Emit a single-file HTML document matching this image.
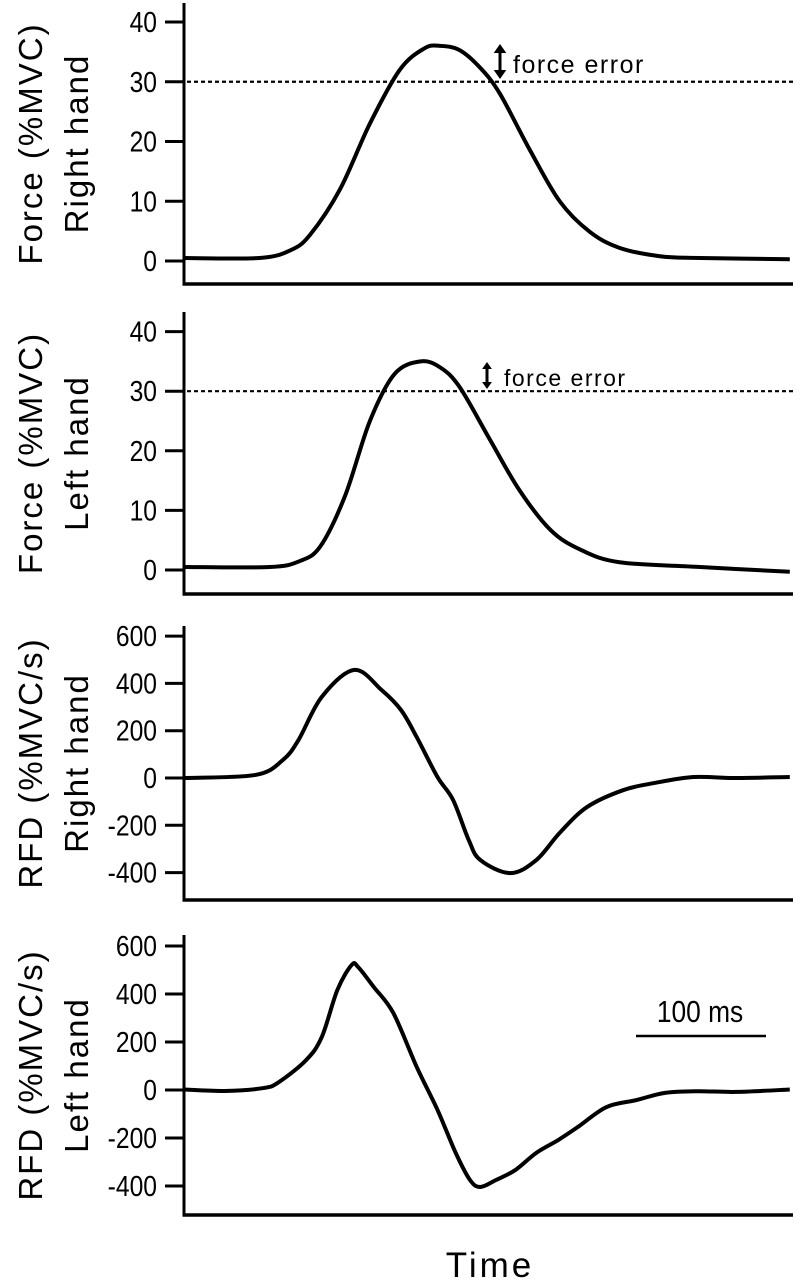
<!DOCTYPE html>
<html><head><meta charset="utf-8"><style>
body{margin:0;background:#fff;}
svg{display:block;font-family:"Liberation Sans Narrow","Liberation Sans",sans-serif;}
</style></head><body>
<svg id="chart" width="800" height="1281" viewBox="0 0 800 1281"></svg>
<script>
const t1=[0,58,82,97,120,143,166,185,197,212,228,243,266,289,312,335,366,397,466];
const forceRight=[0.5,0.5,1.8,4.4,12,23,32,35.6,36,35.3,32.3,28,18.6,10,4.9,2.2,0.8,0.5,0.3];
const t2=[0,66,89,105,124,143,162,182,197,212,235,258,282,305,335,397,466];
const forceLeft=[0.5,0.5,1.5,4,12.5,25,32.9,35,34,30.7,22,13.4,6.7,3.4,1.3,0.5,-0.3];
const t3=[0,55,76,88,106,131,152,167,179,195,207,219,228,251,271,289,310,338,362,392,423,466];
const rfdRight=[0,13,76,160,343,457,372,287,173,4,-93,-262,-347,-402,-347,-232,-123,-51,-21,4,0,4];
const t4=[0,31,61,73,94,106,118,129,134,146,161,179,195,209,220,228,240,255,271,288,303,325,348,370,395,425,466];
const rfdLeft=[2,-4,8,33,125,221,417,521,512,429,321,96,-83,-262,-375,-404,-375,-333,-262,-208,-154,-71,-42,-12,-5,-8,2];
const forceTicks=[0,10,20,30,40];
const rfdTicks=[-400,-200,0,200,400,600];

const NS="http://www.w3.org/2000/svg";
const svg=document.getElementById('chart');
function mk(tag,attrs,parent){const e=document.createElementNS(NS,tag);for(const k in attrs)e.setAttribute(k,attrs[k]);(parent||svg).appendChild(e);return e;}
const xPx=t=>184+t*1.3;
function spline(pts){let d=`M${pts[0][0]},${pts[0][1]}`;for(let i=0;i<pts.length-1;i++){const p0=pts[Math.max(0,i-1)],p1=pts[i],p2=pts[i+1],p3=pts[Math.min(pts.length-1,i+2)];const c1=[p1[0]+(p2[0]-p0[0])/6,p1[1]+(p2[1]-p0[1])/6],c2=[p2[0]-(p3[0]-p1[0])/6,p2[1]-(p3[1]-p1[1])/6];d+=` C${c1[0]},${c1[1]} ${c2[0]},${c2[1]} ${p2[0]},${p2[1]}`;}return d;}
const panels=[
 {name:'force-right',t:t1,v:forceRight,ticks:forceTicks,y0:261,per:5.975,top:3,bot:284,l1:'Force (%MVC)',l2:'Right hand',target:30},
 {name:'force-left',t:t2,v:forceLeft,ticks:forceTicks,y0:570,per:5.96,top:312,bot:594,l1:'Force (%MVC)',l2:'Left hand',target:30},
 {name:'rfd-right',t:t3,v:rfdRight,ticks:rfdTicks,y0:778,per:0.2365,top:626,bot:900,l1:'RFD (%MVC/s)',l2:'Right hand'},
 {name:'rfd-left',t:t4,v:rfdLeft,ticks:rfdTicks,y0:1090,per:0.24,top:935,bot:1215,l1:'RFD (%MVC/s)',l2:'Left hand'}];
panels.forEach(p=>{
 const g=mk('g',{});
 
 
 const yPx=v=>p.y0-v*p.per;
 const ya=mk('line',{x1:184,y1:p.top,x2:184,y2:p.bot+1.5,stroke:'#000','stroke-width':3},g);
 
 const xa=mk('line',{x1:182.5,y1:p.bot,x2:793,y2:p.bot,stroke:'#000','stroke-width':3.5},g);
 
 p.ticks.forEach(tv=>{const y=yPx(tv);
  const tk=mk('line',{x1:165,y1:y,x2:184,y2:y,stroke:'#000','stroke-width':3},g);
  
  const tl=mk('text',{x:0,y:0,'text-anchor':'end','font-size':29,transform:`translate(157,${y+10}) scale(0.85,1)`},g);tl.textContent=tv;
  });
 const cy=(p.top+p.bot)/2;
 const a=mk('text',{x:0,y:0,'text-anchor':'middle','font-size':33,'letter-spacing':2,transform:`translate(42,${cy}) rotate(-90)`},g);a.textContent=p.l1;
 
 const b=mk('text',{x:0,y:0,'text-anchor':'middle','font-size':33,'letter-spacing':2,transform:`translate(88,${cy}) rotate(-90)`},g);b.textContent=p.l2;
 
 if(p.target!==undefined){const dl=mk('line',{x1:187,y1:yPx(p.target),x2:793,y2:yPx(p.target),stroke:'#000','stroke-width':2.2,'stroke-dasharray':'4,3'},g);
  }
 const pts=p.t.map((t,i)=>[xPx(t),yPx(p.v[i])]);
 const c=mk('path',{d:spline(pts),fill:'none',stroke:'#000','stroke-width':4,'stroke-linejoin':'round'},g);
 
});
function arrow(x,y1,y2,tx,ty,fs,hs){
 const g=mk('g',{});
 
 
 mk('line',{x1:x,y1:y1+hs,x2:x,y2:y2-hs,stroke:'#000','stroke-width':3},g);
 mk('polygon',{points:`${x-hs*0.7},${y1+hs} ${x+hs*0.7},${y1+hs} ${x},${y1}`},g);
 mk('polygon',{points:`${x-hs*0.7},${y2-hs} ${x+hs*0.7},${y2-hs} ${x},${y2}`},g);
 const t=mk('text',{x:tx,y:ty,'font-size':fs,'letter-spacing':1.5},g);t.textContent='force error';
}
arrow(500,44,79,513,73,25,9);
arrow(487,362,389,504,386,23,7);
const sb=mk('line',{x1:636,y1:1036,x2:766,y2:1036,stroke:'#000','stroke-width':2.5});

const sbt=mk('text',{x:0,y:0,'text-anchor':'middle','font-size':31,transform:'translate(700,1022) scale(0.85,1)'});sbt.textContent='100 ms';

const tt=mk('text',{x:490,y:1277,'text-anchor':'middle','font-size':35,'letter-spacing':3});tt.textContent='Time';

</script>
</body></html>
